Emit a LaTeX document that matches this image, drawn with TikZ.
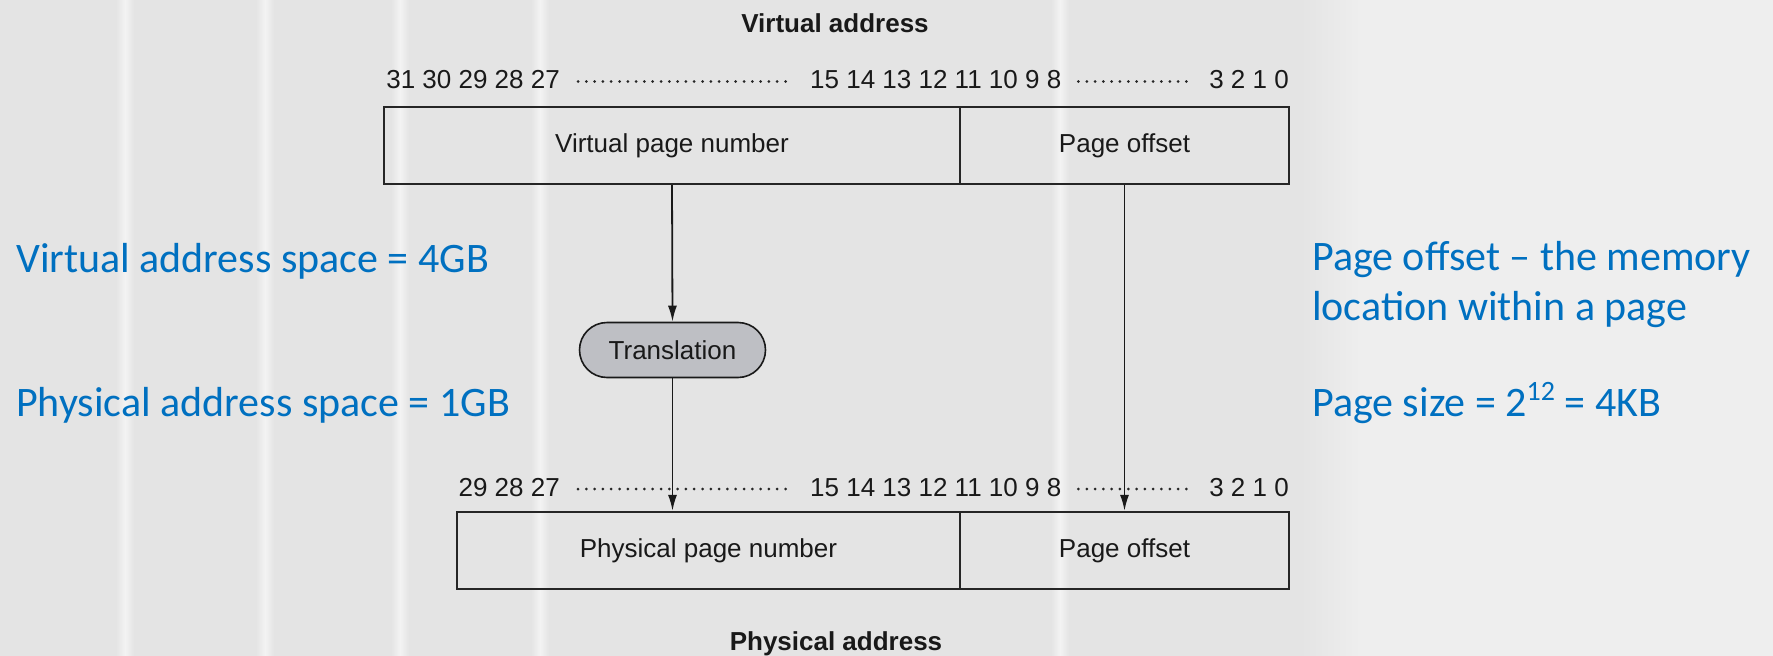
\documentclass[tikz,border=0pt]{standalone}
\usepackage{fontspec}
\setmainfont{Liberation Sans}
\newfontfamily\calibrifont{Carlito}
\usetikzlibrary{arrows.meta,shapes.misc}
\definecolor{paper}{RGB}{228,228,228}
\definecolor{paperlight}{RGB}{238,238,238}
\definecolor{gutterwhite}{RGB}{243,243,243}
\definecolor{noteblue}{RGB}{0,112,192}
\definecolor{transfill}{RGB}{190,191,196}
\tikzset{
  lbl/.style={font=\fontsize{26}{30}\selectfont, inner sep=0pt, text=black!90},
  title/.style={font=\fontsize{26}{30}\selectfont\bfseries, inner sep=0pt, anchor=base, text=black!90},
  field/.style={draw=black!85, line width=2.2pt, minimum height=77pt, inner sep=0pt,
                font=\fontsize{26}{30}\selectfont, text=black!90},
  leader/.style={line width=3pt, line cap=round, dash pattern=on 0pt off 8.3pt, black!85},
  flow/.style={draw=black!90, line width=1.8pt, -{Latex[length=16pt,width=9pt]}},
  transbox/.style={rounded rectangle, draw=black!90, line width=1.6pt, fill=transfill,
                   minimum width=186pt, minimum height=55pt, inner sep=0pt,
                   font=\fontsize{26}{30}\selectfont, text=black!90},
  note/.style={font=\calibrifont\fontsize{42}{50}\selectfont, text=noteblue,
               inner sep=0pt, anchor=base west},
}
\begin{document}
\begin{tikzpicture}[x=1pt,y=-1pt]
  % paper background with soft column gutters
  \fill[paper] (0,0) rectangle (1300,656);
  \shade[left color=paper, right color=paperlight] (1300,0) rectangle (1360,656);
  \fill[paperlight] (1360,0) rectangle (1773,656);
  \foreach \gx in {125,265,400,540,1060} {
    \shade[left color=paper, right color=paper, middle color=gutterwhite]
      (\gx-9,0) rectangle (\gx+9,656);
  }
  \useasboundingbox (0,0) rectangle (1773,656);

  % ---- virtual address ----
  \node[title] (vtitle) at (835,32) {Virtual address};

  \node[lbl, anchor=base east] (vbl) at (560,88.5) {31 30 29 28 27};
  \node[lbl, anchor=base west] (vbm) at (810,88.5) {15 14 13 12 11 10 9 8};
  \node[lbl, anchor=base east] (vbr) at (1289,88.5) {3 2 1 0};
  \draw[leader] ([xshift=18pt,yshift=7pt]vbl.base east) -- ([xshift=-20pt,yshift=7pt]vbm.base west);
  \draw[leader] ([xshift=17pt,yshift=7pt]vbm.base east) -- ([xshift=-21pt,yshift=7pt]vbr.base west);

  \node[field, minimum width=576pt] (vpn) at (672,145.5) {Virtual page number};
  \node[field, minimum width=329pt] (voff) at (1124.5,145.5) {Page offset};

  % ---- translation ----
  \node[transbox] (trans) at (672.5,350) {Translation};

  % ---- physical address ----
  \node[lbl, anchor=base east] (pbl) at (560,496) {29 28 27};
  \node[lbl, anchor=base west] (pbm) at (810,496) {15 14 13 12 11 10 9 8};
  \node[lbl, anchor=base east] (pbr) at (1289,496) {3 2 1 0};
  \draw[leader] ([xshift=18pt,yshift=7pt]pbl.base east) -- ([xshift=-20pt,yshift=7pt]pbm.base west);
  \draw[leader] ([xshift=17pt,yshift=7pt]pbm.base east) -- ([xshift=-21pt,yshift=7pt]pbr.base west);

  \node[field, minimum width=503pt] (ppn) at (708.5,550.5) {Physical page number};
  \node[field, minimum width=329pt] (poff) at (1124.5,550.5) {Page offset};

  \node[title] (ptitle) at (836,650) {Physical address};

  % ---- connectors ----
  \draw[flow] (vpn.south) -- (trans.north);
  \draw[flow] (trans.south) -- (trans.south |- ppn.north);
  \draw[flow] (voff.south) -- (poff.north);

  % ---- side notes ----
  \node[note] (vspace) at (16,272) {Virtual address space = 4GB};
  \node[note] (pspace) at (16,416) {Physical address space = 1GB};
  \node[note] (offnote1) at (1312,270) {Page offset – the memory};
  \node[note] (offnote2) at (1312,320) {location within a page};
  \node[note] (psize) at (1312,416) {Page size = 2\raisebox{0.36em}{\fontsize{28}{28}\selectfont 12} = 4KB};
\end{tikzpicture}
\end{document}
